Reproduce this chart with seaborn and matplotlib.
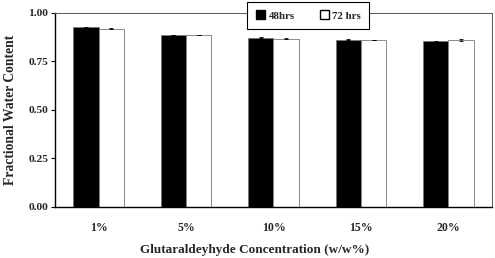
import matplotlib
matplotlib.use("Agg")
import matplotlib.pyplot as plt
from matplotlib.patches import Patch
import pandas as pd
import seaborn as sns

# values
concentrations = ["1%", "5%", "10%", "15%", "20%"]
water_48h = [0.925, 0.886, 0.873, 0.861, 0.854]
water_72h = [0.919, 0.886, 0.868, 0.860, 0.859]
err_48h = [0.003, 0.002, 0.003, 0.002, 0.003]
err_72h = [0.003, 0.002, 0.003, 0.002, 0.004]
series = ["48hrs", "72 hrs"]

df = pd.DataFrame({
    "conc": concentrations * 2,
    "time": [series[0]] * 5 + [series[1]] * 5,
    "water": water_48h + water_72h,
})

sns.set_style("white")
plt.rcParams["font.family"] = ["Liberation Serif", "DejaVu Serif"]
plt.rcParams["font.weight"] = "bold"

fig = plt.figure(figsize=(4.95, 2.58), dpi=100)
ax = fig.add_axes([0.111, 0.198, 0.883, 0.752])

sns.barplot(data=df, x="conc", y="water", hue="time", order=concentrations,
            hue_order=series, palette=["black", "white"], width=0.58, gap=0,
            edgecolor="#777777", linewidth=0.6, errorbar=None, ax=ax, legend=False)

# error bars on top of each bar
bars = ax.patches[:10]
vals = water_48h + water_72h
errs = err_48h + err_72h
for b, v, e in zip(bars, vals, errs):
    cx = b.get_x() + b.get_width() / 2
    ax.errorbar(cx, v, yerr=e, color="black", capsize=1.5, lw=0.6, capthick=0.6)

ax.set_ylim(0, 1.0)
ax.set_xlim(-0.5, 4.5)
ax.set_yticks([0, 0.25, 0.5, 0.75, 1.0])
ax.set_yticklabels(["0.00", "0.25", "0.50", "0.75", "1.00"], fontsize=8.2, fontweight="bold")
ax.set_xticks(range(5))
ax.set_xticklabels(concentrations, fontsize=8.5, fontweight="bold")
ax.set_xticks([i - 0.5 for i in range(6)], minor=True)
ax.tick_params(axis="x", which="major", length=0, pad=11)
ax.tick_params(axis="x", which="minor", length=3, width=0.8, direction="out", color="black")
ax.tick_params(axis="y", length=3, width=0.8, direction="out", left=True, color="black", pad=2)

for s in ["left", "bottom"]:
    ax.spines[s].set_color("black")
    ax.spines[s].set_linewidth(1.0)
for s in ["top", "right"]:
    ax.spines[s].set_color("#555555")
    ax.spines[s].set_linewidth(0.7)

ax.set_xlabel("Glutaraldeyhyde Concentration (w/w%)", fontsize=9.5, fontweight="bold")
ax.xaxis.set_label_coords(0.456, -0.19)
ax.set_ylabel("Fractional Water Content", fontsize=9.8, fontweight="bold")
ax.yaxis.set_label_coords(-0.086, 0.5)

handles = [Patch(facecolor="black", edgecolor="black", label=series[0]),
           Patch(facecolor="white", edgecolor="black", label=series[1])]
leg = ax.legend(handles=handles, loc="upper center", bbox_to_anchor=(0.58, 1.085), ncol=2,
                frameon=True, fancybox=False, framealpha=1, edgecolor="black",
                prop={"size": 7.8, "weight": "bold"}, handlelength=0.85, handleheight=0.85,
                handletextpad=0.3, columnspacing=2.3, borderpad=0.8)
leg.get_frame().set_linewidth(0.8)
leg.set_zorder(10)

fig.savefig("out.png", dpi=100)
